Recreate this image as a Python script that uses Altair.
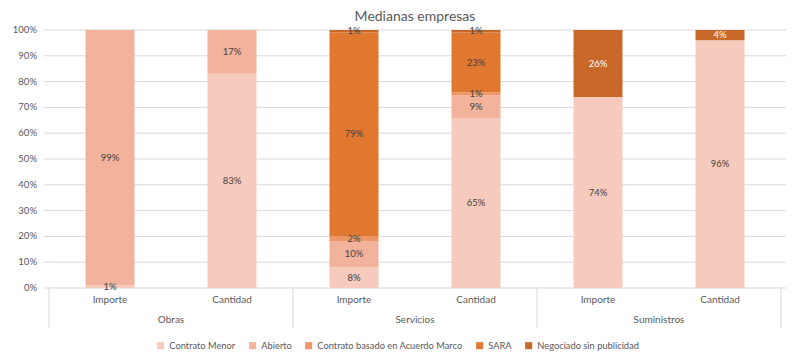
import altair as alt
import pandas as pd

chart_title = "Medianas empresas"
groups = ["Obras", "Servicios", "Suministros"]
measures = ["Importe", "Cantidad"]
series = ["Contrato Menor", "Abierto", "Contrato basado en Acuerdo Marco", "SARA", "Negociado sin publicidad"]
colors = ["#F6CBBD", "#F2B29B", "#EF9566", "#E07830", "#C8692A"]

# values per slot: Obras-Importe, Obras-Cantidad, Servicios-Importe, Servicios-Cantidad, Suministros-Importe, Suministros-Cantidad
contrato_menor = [1, 83, 8, 65, 74, 96]
abierto = [99, 17, 10, 9, 0, 0]
acuerdo_marco = [0, 0, 2, 1, 0, 0]
sara = [0, 0, 79, 23, 0, 0]
negociado = [0, 0, 1, 1, 26, 4]
y_ticks = [0, 10, 20, 30, 40, 50, 60, 70, 80, 90, 100]

all_series = [contrato_menor, abierto, acuerdo_marco, sara, negociado]

rows = []
slots = []
for i in range(len(groups) * len(measures)):
    g = groups[i // len(measures)]
    m = measures[i % len(measures)]
    slots.append({"pos": i + 0.5, "measure": m, "group": g})
    for k, (s, vals) in enumerate(zip(series, all_series)):
        if vals[i] > 0:
            rows.append({"pos": i + 0.5, "group": g, "measure": m, "serie": s, "k": k,
                         "value": vals[i], "label": f"{vals[i]}%"})
df = pd.DataFrame(rows)
slot_df = pd.DataFrame(slots)
group_df = pd.DataFrame({"group": groups, "gpos": [len(measures) * j + len(measures) / 2 for j in range(len(groups))]})
sep_df = pd.DataFrame({"b": [len(measures) * j for j in range(len(groups) + 1)]})
tick_df = pd.DataFrame({"t": [t / 100 for t in y_ticks], "tl": [f"{t}%" for t in y_ticks]})

W, H = 742, 258
FONT = "Lato"
GRAY = "#595959"

xscale = alt.Scale(domain=[0, len(groups) * len(measures)], nice=False, zero=False)
yscale = alt.Scale(domain=[0, 1], nice=False)

grid = alt.Chart(tick_df).mark_rule(color="#D9D9D9", strokeWidth=1).encode(
    y=alt.Y("t:Q", scale=yscale, axis=None)
)
ylabels = alt.Chart(tick_df).mark_text(fontSize=9.5, font=FONT, color=GRAY, align="right", baseline="middle").encode(
    y=alt.Y("t:Q", scale=yscale, axis=None), x=alt.value(-7), text="tl:N"
)

bars = alt.Chart(df).mark_bar(size=49).encode(
    x=alt.X("pos:Q", scale=xscale, axis=None),
    y=alt.Y("value:Q", stack="normalize", scale=yscale, axis=None),
    color=alt.Color("serie:N", scale=alt.Scale(domain=series, range=colors),
                    legend=alt.Legend(orient="none", legendX=112, legendY=311, direction="horizontal",
                                      title=None, symbolType="square", symbolSize=50,
                                      symbolStrokeWidth=0, labelFontSize=9.3, labelFont=FONT,
                                      labelColor=GRAY, columnPadding=12, labelOffset=4,
                                      symbolOffset=0)),
    order=alt.Order("k:Q"),
)

labels = alt.Chart(df).transform_stack(
    stack="value", groupby=["pos"], sort=[alt.SortField("k")], as_=["y0", "y1"], offset="normalize"
).transform_calculate(
    mid="(datum.y0 + datum.y1) / 2"
).mark_text(fontSize=9.5, font=FONT).encode(
    x=alt.X("pos:Q", scale=xscale, axis=None),
    y=alt.Y("mid:Q", scale=yscale, axis=None),
    text="label:N",
    color=alt.condition("datum.serie == 'Negociado sin publicidad' && datum.value > 2",
                        alt.value("white"), alt.value("#404040")),
)

measure_text = alt.Chart(slot_df).mark_text(fontSize=10, font=FONT, color=GRAY).encode(
    x=alt.X("pos:Q", scale=xscale, axis=None), y=alt.value(H + 12), text="measure:N"
)
group_text = alt.Chart(group_df).mark_text(fontSize=10, font=FONT, color=GRAY).encode(
    x=alt.X("gpos:Q", scale=xscale, axis=None), y=alt.value(H + 32), text="group:N"
)
seps = alt.Chart(sep_df).mark_rule(color="#D9D9D9", strokeWidth=1).encode(
    x=alt.X("b:Q", scale=xscale, axis=None), y=alt.value(H), y2=alt.value(H + 40)
)

chart = alt.layer(grid, ylabels, bars, labels, measure_text, group_text, seps).properties(
    width=W, height=H,
    title=alt.TitleParams(chart_title, anchor="middle", fontSize=14, font=FONT,
                          color=GRAY, fontWeight="normal", offset=9, dy=8),
    autosize=alt.AutoSizeParams(type="none"),
    padding={"left": 36, "top": 22, "right": 0, "bottom": 66},
).configure_view(stroke=None)

chart.save("out.html", embed_options={"renderer": "svg", "actions": False})
